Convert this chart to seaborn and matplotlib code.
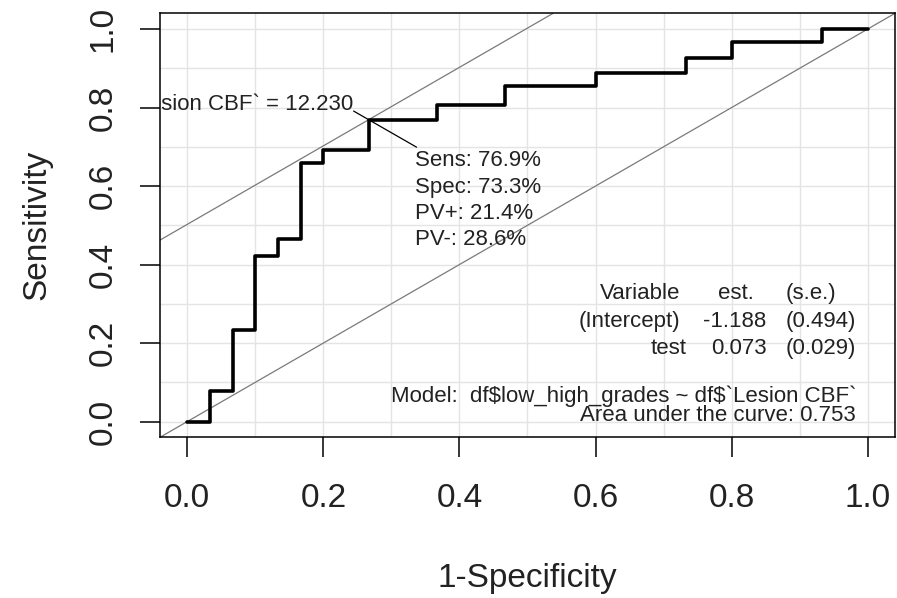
import numpy as np
import pandas as pd
import matplotlib
matplotlib.use("Agg")
import matplotlib.pyplot as plt
import seaborn as sns

# ROC curve values (1-Specificity, Sensitivity)
fpr = [0.0, 1/30, 2/30, 3/30, 4/30, 5/30, 6/30, 8/30, 11/30, 14/30, 18/30, 22/30, 24/30, 28/30, 1.0]
tpr = [0.0, 0.077, 0.234, 0.421, 0.465, 0.658, 0.693, 0.769, 0.806, 0.854, 0.889, 0.925, 0.968, 1.0, 1.0]

opt_fpr = 8/30
opt_tpr = 0.769
cutoff_label = "df$`Lesion CBF` = 12.230"
opt_lines = ["Sens: 76.9%", "Spec: 73.3%", "PV+: 21.4%", "PV-: 28.6%"]

tab_rows = ["Variable", "(Intercept)", "test"]
tab_est = ["est.", "-1.188", "0.073"]
tab_se = ["(s.e.)", "(0.494)", "(0.029)"]
model_text = "Model:  df$low_high_grades ~ df$`Lesion CBF`"
auc_text = "Area under the curve: 0.753"

ticks = [0.0, 0.2, 0.4, 0.6, 0.8, 1.0]
tick_labels = ["0.0", "0.2", "0.4", "0.6", "0.8", "1.0"]

sns.set_theme(style="white")
plt.rcParams["font.family"] = ["Liberation Sans", "DejaVu Sans"]

fig = plt.figure(figsize=(8.97, 5.98), dpi=100)
ax = fig.add_axes([0.17837, 0.26873, 0.99777 - 0.17837, 0.97776 - 0.26873])

df = pd.DataFrame({"fpr": fpr, "tpr": tpr})

# grid every 0.1
minor = np.round(np.arange(0, 1.01, 0.1), 2)
ax.set_xticks(minor, minor=True)
ax.set_yticks(minor, minor=True)
ax.grid(which="both", color="#e4e4e4", linewidth=1.0)
ax.set_axisbelow(True)

# diagonals
ax.axline((0, 0), slope=1, color="#7a7a7a", linewidth=0.9, zorder=2)
ax.axline((0, opt_tpr - opt_fpr), slope=1, color="#7a7a7a", linewidth=0.9, zorder=2)

sns.lineplot(data=df, x="fpr", y="tpr", drawstyle="steps-post", sort=False,
             estimator=None, color="black", linewidth=2.6, ax=ax, zorder=3)

txt_kw = dict(fontsize=16, color="#222222", parse_math=False, zorder=4)

# optimal point annotation
ax.plot([0.2445, 0.337], [0.791, 0.699], color="black", linewidth=0.9, zorder=3)
ax.text(0.244, 0.808, cutoff_label, ha="right", va="center", clip_on=True, **txt_kw)
for i, s in enumerate(opt_lines):
    ax.text(0.335, 0.664 - i * 0.0665, s, ha="left", va="center", **txt_kw)

row_y = [0.327, 0.255, 0.187]
row_x = [0.724, 0.724, 0.7345]
for i in range(3):
    ax.text(row_x[i], row_y[i], tab_rows[i], ha="right", va="center", **txt_kw)
    if i == 0:
        ax.text(0.8066, row_y[i], tab_est[i], ha="center", va="center", **txt_kw)
    else:
        ax.text(0.851, row_y[i], tab_est[i], ha="right", va="center", **txt_kw)
    ax.text(0.8787, row_y[i], tab_se[i], ha="left", va="center", **txt_kw)

ax.text(0.983, 0.0633, model_text, ha="right", va="center", **txt_kw)
ax.text(0.983, 0.0166, auc_text, ha="right", va="center", **txt_kw)

ax.set_xlim(-0.04, 1.04)
ax.set_ylim(-0.04, 1.04)
ax.set_xticks(ticks)
ax.set_xticklabels(tick_labels)
ax.set_yticks(ticks)
ax.set_yticklabels(tick_labels, rotation=90, va="center")
ax.tick_params(which="major", direction="out", length=14.4, width=1.1, color="black",
               labelsize=24, labelcolor="#222222", bottom=True, left=True)
ax.tick_params(axis="x", which="major", pad=18.5)
ax.tick_params(axis="y", which="major", pad=15.5)
ax.tick_params(which="minor", length=0)

for sp in ax.spines.values():
    sp.set_visible(True)
    sp.set_color("black")
    sp.set_linewidth(1.1)

ax.set_xlabel("1-Specificity", fontsize=24, color="#222222")
ax.set_ylabel("Sensitivity", fontsize=24, color="#222222")
ax.xaxis.label.set_va("center")
ax.yaxis.label.set_va("center")
ax.xaxis.set_label_coords(0.5, -0.334)
ax.yaxis.set_label_coords(-0.168, 0.5)

fig.savefig("out.png", dpi=100)
